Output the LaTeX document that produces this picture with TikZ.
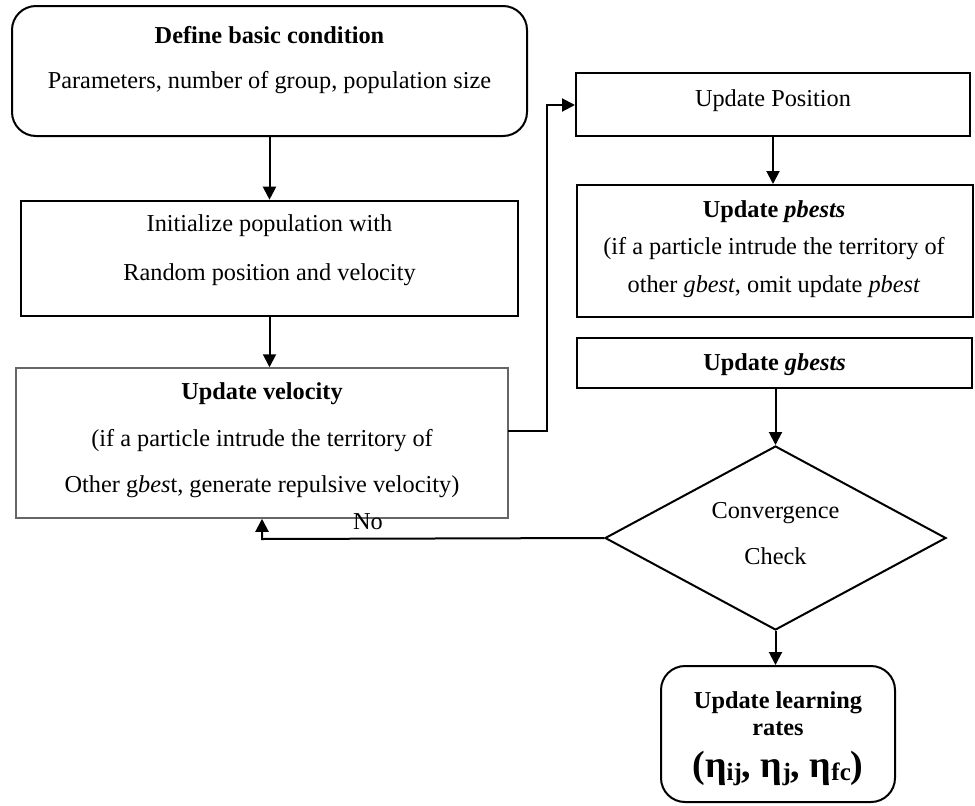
\documentclass[tikz,border=0pt]{standalone}
\usepackage{fontspec}
\setmainfont{Liberation Serif}
\usetikzlibrary{arrows.meta,shapes.geometric}
\begin{document}
\begin{tikzpicture}[x=1pt,y=-1pt,
  boxline/.style={draw, line width=2pt, inner sep=0pt},
  thickbox/.style={draw, line width=2.6pt, inner sep=0pt},
  graybox/.style={draw=black!60, line width=1.5pt, inner sep=0pt},
  roundbox/.style={draw, line width=2pt, inner sep=0pt, rounded corners=24pt},
  decision/.style={draw, diamond, line width=2pt, inner sep=0pt},
  txt/.style={anchor=base, inner sep=0pt, font=\fontsize{24.3}{28}\selectfont},
  arr/.style={line width=2pt, -{Triangle[length=13pt,width=13pt]}},
  conn/.style={line width=2pt}
]
\useasboundingbox (0,0) rectangle (975,806);

% boxes
\node[roundbox, minimum width=515pt, minimum height=130pt] (define) at (269.5,71) {};
\node[thickbox, minimum width=497pt, minimum height=115pt] (init) at (269.5,258.5) {};
\node[graybox, minimum width=492pt, minimum height=150pt] (vel) at (262,443) {};
\node[boxline, minimum width=394pt, minimum height=63pt] (pos) at (773,104.5) {};
\node[boxline, minimum width=396pt, minimum height=132pt] (pbest) at (775,251) {};
\node[boxline, minimum width=395pt, minimum height=50pt] (gbest) at (774.5,363) {};
\node[decision, minimum width=341pt, minimum height=184pt] (conv) at (775.5,538) {};
\node[roundbox, minimum width=234pt, minimum height=136pt] (final) at (778,734) {};

% texts
\node[txt] (t1a) at (269.5,43) {\bfseries Define basic condition};
\node[txt] (t1b) at (269.5,88) {Parameters, number of group, population size};
\node[txt] (t2a) at (269.5,231) {Initialize population with};
\node[txt] (t2b) at (269.5,280) {Random position and velocity};
\node[txt] (t3a) at (262,399) {\bfseries Update velocity};
\node[txt] (t3b) at (262,446) {(if a particle intrude the territory of};
\node[txt] (t3c) at (262,492) {Other g\textit{bes}t, generate repulsive velocity)};
\node[txt] (t4) at (773,106) {Update Position};
\node[txt] (t5a) at (774,217) {\bfseries Update \textit{pbests}};
\node[txt] (t5b) at (774,254) {(if a particle intrude the territory of};
\node[txt] (t5c) at (774,292) {other \textit{gbest}, omit update \textit{pbest}};
\node[txt] (t6) at (774.5,370) {\bfseries Update \textit{gbests}};
\node[txt] (t7a) at (775.5,518) {Convergence};
\node[txt] (t7b) at (775.5,564) {Check};
\node[txt] (t8a) at (778,708) {\bfseries Update learning};
\node[txt] (t8b) at (778,735) {\bfseries rates};
\node[txt, font=\fontsize{38}{42}\selectfont\bfseries] (t8c) at (778,777)
  {(η\raisebox{-0.2ex}{\fontsize{25}{28}\selectfont ij}, η\raisebox{-0.2ex}{\fontsize{25}{28}\selectfont j}, η\raisebox{-0.2ex}{\fontsize{25}{28}\selectfont fc})};
\node[txt] (no) at (368,529) {No};

% connectors
\draw[arr] (define) -- (init);
\draw[arr] (init.south) -- (init.south |- vel.north);
\draw[arr] (pos.south) -- (pos.south |- pbest.north);
\draw[arr] (gbest.south -| conv) -- (conv.north);
\draw[arr] (conv.south) -- (conv.south |- final.north);

\coordinate (jv) at (508,431);
\coordinate (jt) at (547,105);
\draw[arr] (jv) -- (jv -| jt) -- (jt) -- (pos.west |- jt);

\coordinate (loopc) at (262,539);
\draw[arr] (conv.west) -- (loopc) -- (vel.south -| loopc);
\end{tikzpicture}
\end{document}
